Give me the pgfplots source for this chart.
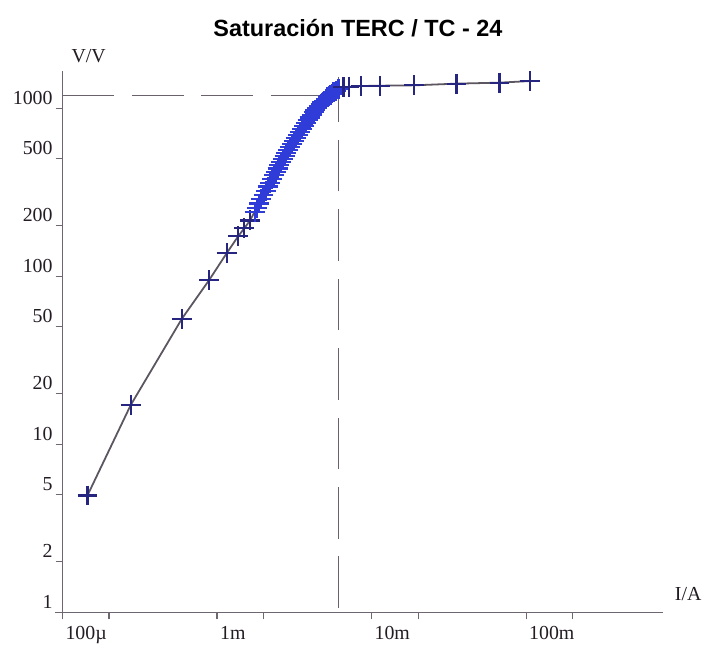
\documentclass[border=0pt]{standalone}
\usepackage{pgfplots}
\pgfplotsset{compat=1.18}
\usepackage{pgfplotstable}
\usepackage{fontspec}
\setmainfont{Liberation Serif}
\newfontfamily\titlefont{Liberation Sans}

\definecolor{axisgray}{RGB}{110,102,112}
\definecolor{curvegray}{RGB}{92,86,96}
\definecolor{dashgray}{RGB}{105,98,108}
\definecolor{navy}{RGB}{38,38,128}
\definecolor{clusterblue}{RGB}{48,60,215}
\definecolor{textdark}{RGB}{35,28,35}

% I/A  V/V  group (a = single cross, b = dense cluster)
\pgfplotstableread{
x         y     g
1.45e-4   4.96  a
2.76e-4   17.1  a
5.93e-4   56.0  a
8.88e-4   94.8  a
1.153e-3  137   a
1.37e-3   173   a
1.50e-3   193   a
1.636e-3  215   a
1.75e-3   242   b
1.81e-3   256   b
1.869e-3  271   b
1.933e-3  287   b
2.00e-3   305   b
2.066e-3  323   b
2.135e-3  342   b
2.20e-3   361   b
2.27e-3   380   b
2.336e-3  399   b
2.404e-3  419   b
2.466e-3  438   b
2.53e-3   458   b
2.597e-3  479   b
2.666e-3  500   b
2.737e-3  521   b
2.81e-3   543   b
2.883e-3  566   b
2.957e-3  589   b
3.047e-3  614   b
3.14e-3   640   b
3.233e-3  666   b
3.328e-3  694   b
3.427e-3  722   b
3.53e-3   752   b
3.636e-3  784   b
3.746e-3  817   b
3.856e-3  848   b
3.97e-3   880   b
4.091e-3  913   b
4.216e-3  948   b
4.326e-3  975   b
4.44e-3   1003  b
4.557e-3  1030  b
4.677e-3  1057  b
4.797e-3  1083  b
4.92e-3   1110  b
5.051e-3  1136  b
5.185e-3  1163  b
5.30e-3   1184  b
5.42e-3   1205  b
5.542e-3  1225  b
5.667e-3  1245  b
5.88e-3   1271  b
6.103e-3  1297  b
6.572e-3  1332  a
7.18e-3   1341  a
8.49e-3   1356  a
1.140e-2  1362  a
1.886e-2  1369  a
3.545e-2  1401  a
6.729e-2  1420  a
0.1060    1452  a
}\curve

\begin{document}
\begin{tikzpicture}
\begin{axis}[
  scale only axis,
  width=302.5pt, height=272.5pt,
  xmode=log, ymode=log,
  xmin=1e-4, xmax=0.768,
  ymin=1, ymax=1656,
  clip=false,
  axis lines=left,
  axis line style={-, draw=axisgray, line width=0.6pt},
  x axis line style={shorten <=-4pt},
  tick align=outside,
  major tick length=3.5pt,
  tick style={draw=axisgray, line width=0.6pt},
  xminorticks=false, yminorticks=false,
  xtick={1e-4,2e-4,1e-3,2e-3,1e-2,2e-2,1e-1,2e-1},
  xticklabels={100µ,,1m,,10m,,100m,},
  ytick={1,2,5,10,20,50,100,200,500,1000},
  yticklabels={1,2,5,10,20,50,100,200,500,1000},
  ticklabel style={font=\fontsize{10}{12}\selectfont, text=textdark},
  xticklabel style={anchor=north west, xshift=-2pt},
  yticklabel style={anchor=base east, xshift=2pt, yshift=2pt},
  title={Saturación TERC / TC - 24},
  title style={font=\titlefont\bfseries\fontsize{11.8}{13}\selectfont,
    text=black, at={(0.492,1)}, anchor=base, yshift=11.5pt},
]
% reference lines at the knee
\addplot[dashgray, line width=0.8pt, dash pattern=on 26pt off 9pt]
  coordinates {(1e-4,1190) (6.1e-3,1190)};
\addplot[dashgray, line width=0.8pt, dash pattern=on 26pt off 9pt]
  coordinates {(6.1e-3,1.06) (6.1e-3,1540)};
% curve
\addplot[curvegray, line width=0.9pt, no marks] table[x=x, y=y] {\curve};
\addplot[only marks, scatter, scatter src=explicit symbolic,
  mark size=5pt,
  scatter/classes={
    a={mark=+, draw=navy, line width=1.1pt},
    b={mark=+, draw=clusterblue, line width=1.1pt}}]
  table[x=x, y=y, meta=g] {\curve};

\node[anchor=base west, font=\fontsize{10}{12}\selectfont, text=textdark,
  xshift=1pt, yshift=4.5pt] at (rel axis cs:0,1) {V/V};
\node[anchor=base west, font=\fontsize{10}{12}\selectfont, text=textdark,
  xshift=2.5pt, yshift=6pt] at (rel axis cs:1,0) {I/A};
\end{axis}
\path ([xshift=-31.5pt,yshift=-16.5pt]current axis.south west)
  rectangle ([xshift=20pt,yshift=36pt]current axis.north east);
\end{tikzpicture}
\end{document}
